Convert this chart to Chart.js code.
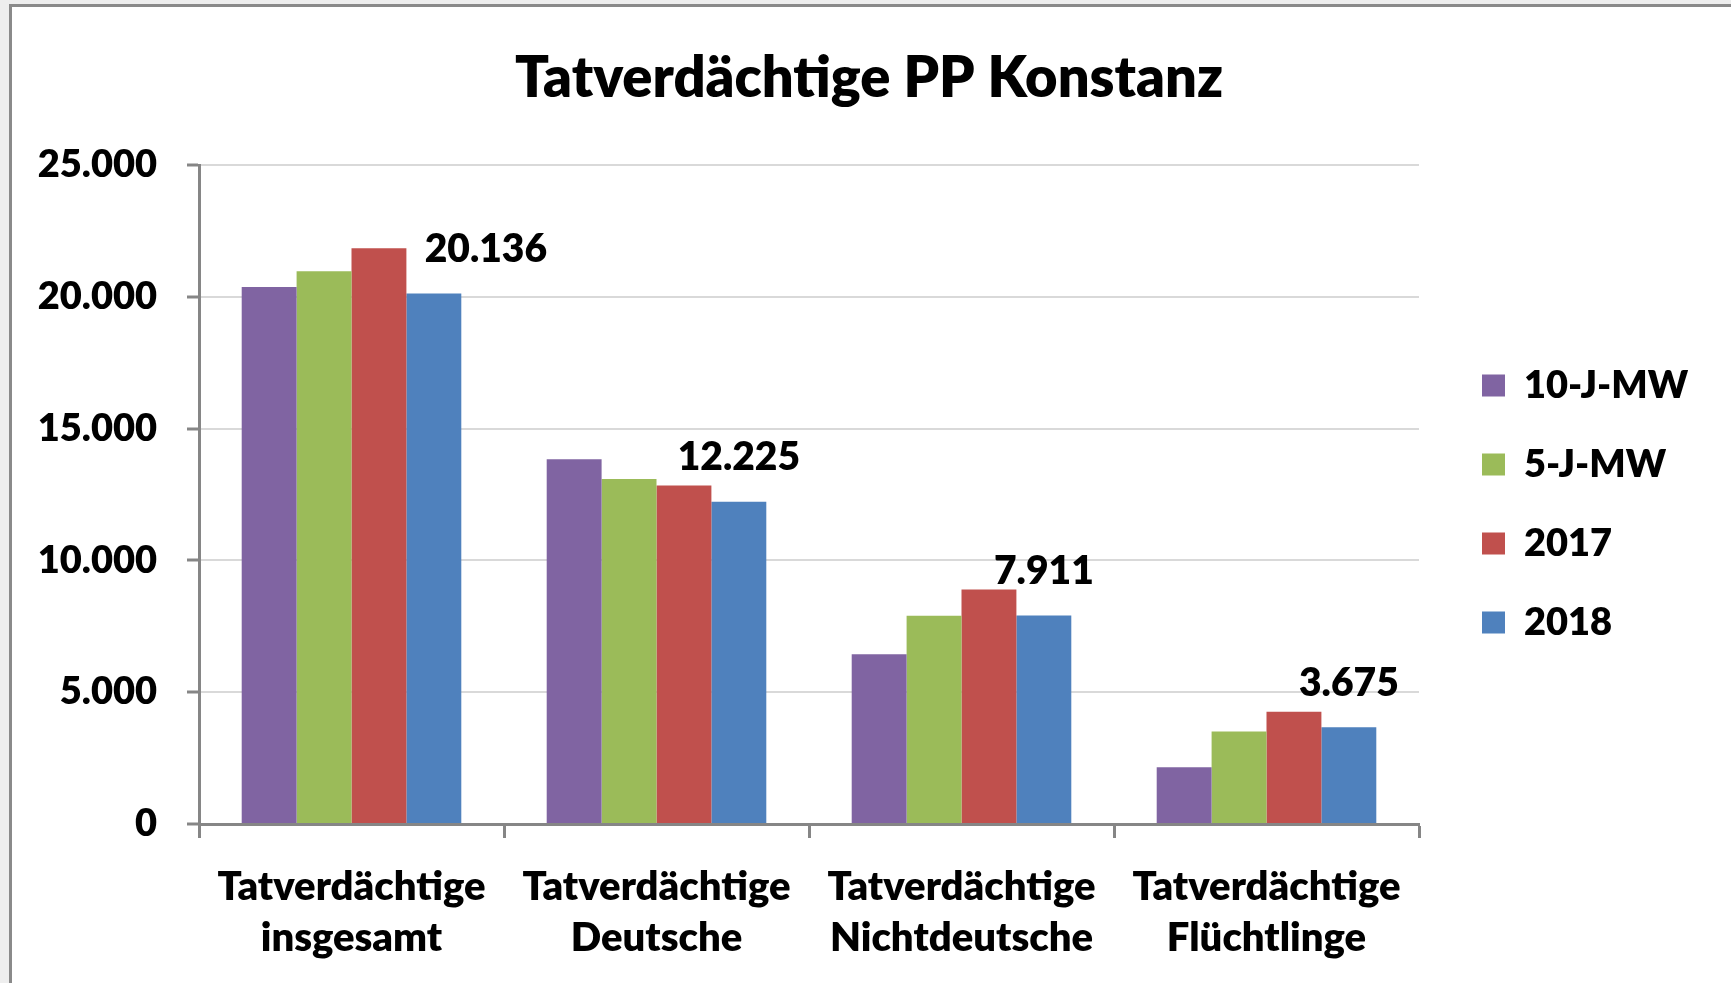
<!DOCTYPE html>
<html>
<head>
<meta charset="utf-8">
<script src="https://cdn.jsdelivr.net/npm/chart.js@4"></script>
<style>
  html, body { margin: 0; padding: 0; background: #eeeeee; overflow: hidden; }
  #frame { position: absolute; left: 9px; top: 4px; width: 1725px; height: 1000px; border: 3px solid #8a8a8a; background: #ffffff; box-sizing: border-box; }
  #c { position: absolute; left: 0; top: 0; }
</style>
</head>
<body>
<div id="frame"></div>
<canvas id="c" width="1731" height="983"></canvas>
<script>
const titleText = 'Tatverdächtige PP Konstanz';
const categories = [
  ['Tatverdächtige', 'insgesamt'],
  ['Tatverdächtige', 'Deutsche'],
  ['Tatverdächtige', 'Nichtdeutsche'],
  ['Tatverdächtige', 'Flüchtlinge']
];
const seriesNames = ['10-J-MW', '5-J-MW', '2017', '2018'];
const mw10 = [20375, 13845, 6440, 2150];
const mw5 = [20980, 13095, 7905, 3510];
const y2017 = [21845, 12845, 8900, 4260];
const y2018 = [20136, 12225, 7911, 3675];
const yMax = 25000;
const yStep = 5000;

const colors = ['#8064A2', '#9BBB59', '#C0504D', '#4F81BD'];
const FONT = 'Lato, "Open Sans", sans-serif';
const W = 800;

function fmt(v) {
  return String(Math.round(v)).replace(/\B(?=(\d{3})+(?!\d))/g, '.');
}

const valueLabels = {
  id: 'valueLabels',
  afterDatasetsDraw(chart, args, opts) {
    const ctx = chart.ctx;
    const dsIndex = opts.datasetIndex;
    const meta = chart.getDatasetMeta(dsIndex);
    const data = chart.data.datasets[dsIndex].data;
    ctx.save();
    ctx.font = W + ' 39px ' + FONT;
    ctx.fillStyle = '#000';
    ctx.textAlign = 'center';
    ctx.textBaseline = 'middle';
    meta.data.forEach((bar, i) => {
      const dx = (opts.shiftX && opts.shiftX[i]) || 0;
      ctx.fillText(fmt(data[i]), bar.x + dx, bar.y - opts.gap);
    });
    ctx.restore();
  }
};

const legendShift = {
  id: 'legendShift',
  afterLayout(chart, args, opts) {
    if (chart.legend) {
      chart.legend.left += opts.dx;
      chart.legend.right += opts.dx;
    }
  }
};

Chart.defaults.font.family = FONT;
Chart.defaults.font.weight = W;
Chart.defaults.color = '#000';

const seriesData = [mw10, mw5, y2017, y2018];

new Chart(document.getElementById('c'), {
  type: 'bar',
  data: {
    labels: categories,
    datasets: seriesNames.map((n, k) => ({
      label: n,
      data: seriesData[k],
      backgroundColor: colors[k],
      borderWidth: 0,
      categoryPercentage: 0.72,
      barPercentage: 1.0
    }))
  },
  plugins: [valueLabels, legendShift],
  options: {
    responsive: false,
    animation: false,
    devicePixelRatio: 1,
    layout: { padding: { left: 7, top: 25, right: 0, bottom: 0 } },
    plugins: {
      title: {
        display: true,
        text: titleText,
        font: { size: 56, weight: W, lineHeight: 1.2 },
        color: '#000',
        padding: { top: 20, bottom: 53 }
      },
      legend: {
        position: 'right',
        align: 'center',
        labels: {
          boxWidth: 23,
          boxHeight: 22,
          padding: 41,
          font: { size: 38, weight: W },
          color: '#000'
        }
      },
      legendShift: { dx: 22 },
      tooltip: { enabled: false },
      valueLabels: { datasetIndex: 3, gap: 44, shiftX: [52, 0, 0, 0] }
    },
    scales: {
      x: {
        offset: true,
        grid: {
          offset: true,
          drawOnChartArea: false,
          drawTicks: true,
          tickLength: 14,
          tickColor: '#868686',
          tickWidth: 3
        },
        border: { display: true, color: '#868686', width: 3 },
        ticks: {
          padding: 24,
          font: { size: 40, weight: W, lineHeight: 1.275 },
          color: '#000',
          maxRotation: 0,
          autoSkip: false
        },
        afterFit(scale) {
          scale.height = 983 - 824;
          scale.paddingRight = 1731 - 1419;
        }
      },
      y: {
        min: 0,
        max: yMax,
        ticks: {
          stepSize: yStep,
          padding: 30,
          font: { size: 38, weight: W },
          color: '#000',
          callback: (v) => fmt(v)
        },
        grid: {
          color: '#d9d9d9',
          lineWidth: 2,
          drawTicks: true,
          tickLength: 12,
          tickColor: '#868686',
          tickWidth: 3
        },
        border: { display: true, color: '#868686', width: 3 },
        afterFit(scale) {
          scale.width = 199 - 7;
        }
      }
    }
  }
});
</script>
</body>
</html>
